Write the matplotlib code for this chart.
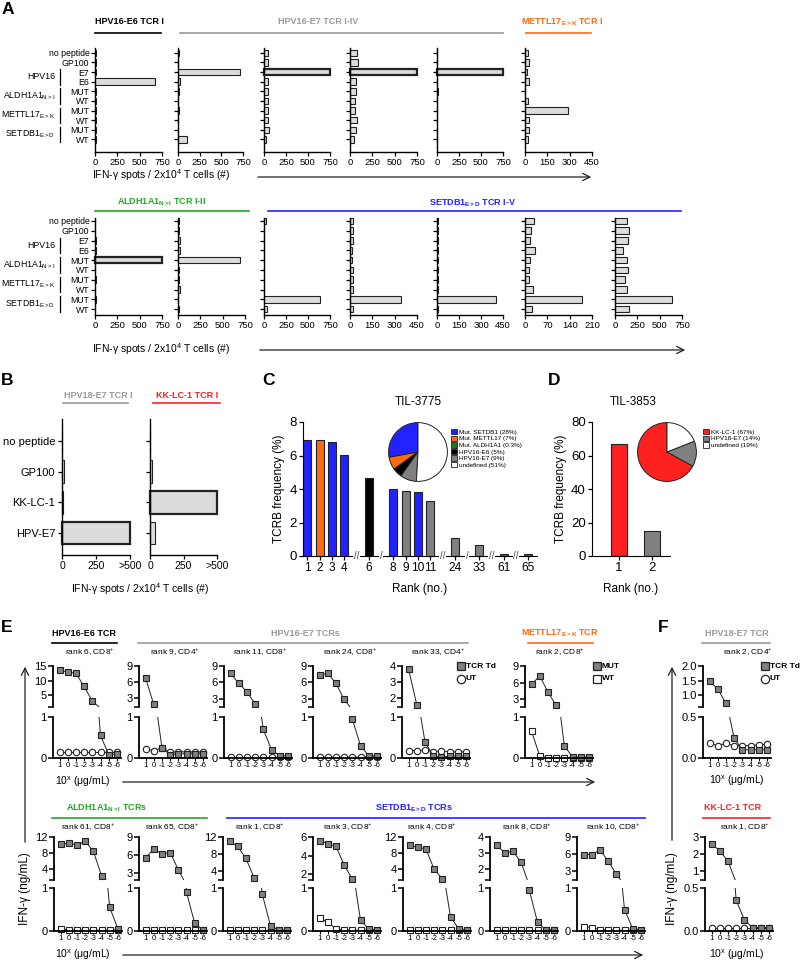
import numpy as np
import matplotlib
matplotlib.use('Agg')
import matplotlib.pyplot as plt
import matplotlib.transforms as mtrans
from matplotlib.lines import Line2D
from matplotlib.patches import FancyArrowPatch, Patch

plt.rcParams['font.family'] = ['Liberation Sans', 'DejaVu Sans']
plt.rcParams['mathtext.fontset'] = 'custom'
plt.rcParams['mathtext.rm'] = 'Liberation Sans'
plt.rcParams['mathtext.it'] = 'Liberation Sans:italic'
plt.rcParams['mathtext.bf'] = 'Liberation Sans:bold'

# ---------------- data ----------------
# panel A (IFN-g spots)
cats = ['no peptide', 'GP100', 'E7', 'E6', 'MUT', 'WT', 'MUT', 'WT', 'MUT', 'WT']
groups = [('HPV16', 2, 3), ('ALDH1A1$_{\\mathrm{N>I}}$', 4, 5),
          ('METTL17$_{\\mathrm{E>K}}$', 6, 7), ('SETDB1$_{\\mathrm{E>D}}$', 8, 9)]

e6_tcr1 = [8, 6, 15, 670, 10, 10, 10, 15, 10, 12]
e7_tcr1 = [15, 5, 720, 20, 15, 5, 15, 5, 5, 100]
e7_tcr2 = [50, 50, 750, 50, 50, 50, 50, 40, 60, 20]
e7_tcr3 = [80, 90, 750, 70, 70, 60, 60, 80, 70, 50]
e7_tcr4 = [5, 5, 750, 5, 10, 5, 5, 5, 5, 5]
mettl_tcr1 = [18, 29, 11, 29, 2, 22, 292, 29, 29, 18]

aldh_tcr1 = [5, 5, 15, 10, 750, 5, 10, 5, 10, 5]
aldh_tcr2 = [10, 10, 25, 25, 690, 10, 10, 20, 0, 10]
setdb_tcr1 = [20, 5, 5, 5, 5, 5, 5, 5, 640, 30]
setdb_tcr2 = [20, 20, 20, 15, 15, 20, 20, 20, 340, 20]
setdb_tcr3 = [10, 5, 5, 10, 10, 5, 5, 5, 405, 5]
setdb_tcr4 = [29, 19, 16, 31, 16, 13, 13, 26, 178, 23]
setdb_tcr5 = [131, 161, 143, 94, 131, 143, 116, 131, 637, 161]

# panel B
b_cats = ['no peptide', 'GP100', 'KK-LC-1', 'HPV-E7']
hpv18_tcr1 = [0, 15, 5, 500]
kklc_tcr1 = [0, 15, 500, 35]

# panel C
c_ranks = ['1', '2', '3', '4', '6', '8', '9', '10', '11', '24', '33', '61', '65']
c_freq = [6.9, 6.9, 6.8, 6.05, 4.65, 4.0, 3.9, 3.8, 3.3, 1.1, 0.65, 0.1, 0.1]
c_spec = ['SETDB1', 'METTL17', 'SETDB1', 'SETDB1', 'E6', 'SETDB1', 'E7', 'SETDB1',
          'E7', 'E7', 'E7', 'ALDH1A1', 'ALDH1A1']
c_breaks = ['', '', '', '//', '/', '', '', '', '//', '/', '//', '//', '']
c_pie_labels = ['Mut. SETDB1 (28%)', 'Mut. METTL17 (7%)', 'Mut. ALDH1A1 (0.3%)',
                'HPV16-E6 (5%)', 'HPV16-E7 (9%)', 'undefined (51%)']
c_pie = [28, 7, 0.3, 5, 9, 51]

# panel D
d_ranks = ['1', '2']
d_freq = [67, 15]
d_pie_labels = ['KK-LC-1 (67%)', 'HPV18-E7 (14%)', 'undefined (19%)']
d_pie = [67, 14, 19]

# panels E/F (IFN-g ng/mL vs 10^x ug/mL)
conc = ['1', '0', '-1', '-2', '-3', '-4', '-5', '-6']
r6_td = [13.5, 13.0, 12.5, 8.0, 3.0, 0.55, 0.08, 0.1]
r6_ut = [0.15, 0.15, 0.15, 0.15, 0.15, 0.15, 0.15, 0.15]
r9_td = [6.7, 1.7, 0.25, 0.08, 0.1, 0.1, 0.1, 0.1]
r9_ut = [0.22, 0.18, 0.25, 0.15, 0.15, 0.15, 0.15, 0.15]
r11_td = [7.7, 5.8, 4.3, 2.0, 0.7, 0.2, 0.05, 0.05]
r11_ut = [0.02, 0.02, 0.02, 0.02, 0.02, 0.02, 0.02, 0.02]
r24_td = [7.3, 7.7, 5.8, 2.9, 0.95, 0.3, 0.05, 0.05]
r24_ut = [0.02, 0.02, 0.02, 0.02, 0.02, 0.02, 0.03, 0.03]
r33_td = [3.8, 1.6, 0.4, 0.05, 0.02, 0.05, 0.05, 0.05]
r33_ut = [0.18, 0.18, 0.2, 0.15, 0.18, 0.15, 0.15, 0.15]
r2m_mut = [5.7, 7.2, 4.3, 1.9, 0.3, 0.02, 0.02, 0.02]
r2m_wt = [0.65, 0.05, 0.0, 0.0, 0.0, 0.0, 0.0, 0.0]
f_r2_td = [1.48, 1.22, 0.72, 0.24, 0.1, 0.1, 0.1, 0.1]
f_r2_ut = [0.18, 0.15, 0.18, 0.15, 0.15, 0.15, 0.16, 0.17]

r61_td = [10.2, 10.5, 10.0, 11.0, 8.5, 2.5, 0.55, 0.05]
r61_ut = [0.05, 0.02, 0.02, 0.02, 0.02, 0.02, 0.02, 0.02]
r65_td = [5.5, 7.0, 6.2, 6.4, 3.5, 0.9, 0.18, 0.02]
r65_ut = [0.02, 0.02, 0.02, 0.02, 0.02, 0.02, 0.02, 0.02]
r1_td = [11.0, 9.8, 7.0, 2.5, 0.85, 0.12, 0.02, 0.02]
r1_ut = [0.02, 0.02, 0.02, 0.02, 0.02, 0.02, 0.02, 0.02]
r3_td = [5.6, 5.3, 5.0, 3.0, 1.5, 0.25, 0.05, 0.02]
r3_ut = [0.3, 0.2, 0.05, 0.02, 0.02, 0.02, 0.02, 0.02]
r4_td = [10.0, 9.4, 9.0, 3.9, 1.5, 0.33, 0.05, 0.03]
r4_ut = [0.02, 0.02, 0.02, 0.02, 0.02, 0.02, 0.02, 0.02]
r8_td = [3.5, 3.0, 3.1, 2.4, 0.95, 0.2, 0.03, 0.03]
r8_ut = [0.02, 0.02, 0.02, 0.02, 0.02, 0.02, 0.02, 0.02]
r10_td = [5.9, 5.9, 6.7, 4.8, 2.4, 0.5, 0.05, 0.03]
r10_ut = [0.1, 0.08, 0.03, 0.02, 0.02, 0.02, 0.02, 0.02]
f_r1_td = [2.6, 2.2, 1.6, 0.36, 0.13, 0.04, 0.04, 0.04]
f_r1_ut = [0.04, 0.04, 0.04, 0.04, 0.04, 0.04, 0.04, 0.04]

# colours
blue = '#2222ff'
orange = '#ff6a10'
green_t = '#22aa22'
green_b = '#1f7a1f'
grey_t = '#9a9a9a'
grey_b = '#808080'
red = '#ff2020'
spec_col = {'SETDB1': blue, 'METTL17': orange, 'ALDH1A1': green_b, 'E6': 'k', 'E7': grey_b}

# ---------------- helpers ----------------
W, H = 800, 964
fig = plt.figure(figsize=(W / 100, H / 100), dpi=100)


def ax_px(x0, y0, x1, y1):
    return fig.add_axes([x0 / W, 1 - y1 / H, (x1 - x0) / W, (y1 - y0) / H])


def txt(x, y, s, **kw):
    kw.setdefault('ha', 'center')
    kw.setdefault('va', 'center')
    fig.text(x / W, 1 - y / H, s, **kw)


def hline(x0, x1, y, color='k', lw=1.0):
    fig.add_artist(Line2D([x0 / W, x1 / W], [1 - y / H, 1 - y / H], color=color, lw=lw))


def arrow(x0, y0, x1, y1):
    fig.add_artist(FancyArrowPatch((x0 / W, 1 - y0 / H), (x1 / W, 1 - y1 / H),
                                   transform=fig.transFigure, arrowstyle='->',
                                   mutation_scale=13, lw=0.9, color='#222222'))


def header(x, y, s, x0, x1, ly, color):
    txt(x, y, s, fontsize=6.5, fontweight='bold', color=color)
    hline(x0, x1, ly, color=color, lw=1.2)


def letter(x, y, s):
    txt(x, y, s, fontsize=12.5, fontweight='bold', ha='left')


def spot_panel(x0, x1, y0, y1, vals, xmax, xticks, ylim, labels, xlabels=None):
    ax = ax_px(x0, y0, x1, y1)
    for i, v in enumerate(vals):
        sat = v >= xmax
        ax.barh(i, min(v, xmax), height=0.68, color='#dcdcdc', edgecolor='#222222',
                lw=1.6 if sat else 0.8, clip_on=False)
    ax.set_xlim(0, xmax)
    ax.set_ylim(*ylim)
    ax.set_yticks(np.arange(len(vals)))
    ax.set_yticklabels(labels if labels is not None else [])
    ax.set_xticks(xticks)
    if xlabels is not None:
        ax.set_xticklabels(xlabels)
    for s in ('top', 'right'):
        ax.spines[s].set_visible(False)
    for s in ('left', 'bottom'):
        ax.spines[s].set_linewidth(1.0)
    ax.tick_params(axis='x', length=3, width=0.9, labelsize=6.8, pad=1.5)
    ax.tick_params(axis='y', length=3, width=0.9, labelsize=6.3, pad=1)
    return ax


def group_labels(ax):
    blend = mtrans.blended_transform_factory(fig.transFigure, ax.transData)
    for name, i, j in groups:
        ax.text(55 / W, (i + j) / 2, name, transform=blend, ha='right', va='center', fontsize=6.3)
        ax.add_line(Line2D([60 / W, 60 / W], [i - 0.3, j + 0.3], transform=blend,
                           color='k', lw=0.9, clip_on=False))


def dose_panel(sx, yu, yl, upper, uticks, ulabels, lower, lticks, llabels, series):
    axu = ax_px(sx, yu[0], sx + 68, yu[1])
    axl = ax_px(sx, yl[0], sx + 68, yl[1])
    x = np.arange(len(conc))
    lo = upper[0]
    for vals, mk, fc in series:
        v = np.array(vals)
        for a in (axu, axl):
            a.plot(x, v, '-', color='#222222', lw=0.7)
        up = v >= lo
        kw = dict(ls='none', marker=mk, mfc=fc, mec='#222222', ms=4.6, mew=0.8, clip_on=False)
        axu.plot(x[up], v[up], **kw)
        axl.plot(x[~up], v[~up], **kw)
    for a in (axu, axl):
        a.set_xlim(-0.8, 7.5)
        for s in ('top', 'right'):
            a.spines[s].set_visible(False)
        a.spines['left'].set_linewidth(1.3)
        a.spines['bottom'].set_linewidth(1.3)
    axu.set_ylim(*upper)
    axl.set_ylim(*lower)
    axu.spines['bottom'].set_visible(False)
    axu.set_xticks([])
    axu.set_yticks([lo] + uticks)
    axu.set_yticklabels([''] + ulabels)
    axl.set_yticks(lticks)
    axl.set_yticklabels(llabels)
    axl.set_xticks(x)
    axl.set_xticklabels(conc)
    for a in (axu, axl):
        a.tick_params(axis='y', length=3.5, width=1.1, labelsize=8, pad=1)
    axl.tick_params(axis='x', length=2, width=0.8, labelsize=5.6, pad=1)
    return axu, axl


def leg_marker(x, y, mk, fc, label):
    fig.add_artist(Line2D([x / W], [1 - y / H], marker=mk, mfc=fc, mec='#222222',
                          ms=6, mew=0.9, ls='none'))
    txt(x + 5, y, label, ha='left', fontsize=6, fontweight='bold')


# ---------------- panel A ----------------
letter(2, 10, 'A')
header(129, 22, 'HPV16-E6 TCR I', 95, 161, 33, 'k')
header(318, 22, 'HPV16-E7 TCR I-IV', 180, 503, 33, grey_t)
header(562, 22, 'METTL17$_{\\mathbf{E>K}}$ TCR I', 526, 591, 33, orange)

t750 = [0, 250, 500, 750]
t450 = [0, 150, 300, 450]
ylim_top = (10.3, -0.5)
ax = spot_panel(95, 162, 48, 152, e6_tcr1, 750, t750, ylim_top, cats)
group_labels(ax)
spot_panel(178, 243, 48, 152, e7_tcr1, 750, t750, ylim_top, None)
spot_panel(264, 330, 48, 152, e7_tcr2, 750, t750, ylim_top, None)
spot_panel(350, 417, 48, 152, e7_tcr3, 750, t750, ylim_top, None)
spot_panel(437, 503, 48, 152, e7_tcr4, 750, t750, ylim_top, None)
spot_panel(525, 592, 48, 152, mettl_tcr1, 450, t450, ylim_top, None)
txt(92, 175, 'IFN-\u03b3 spots / 2x10$^4$ T cells (#)', ha='left', fontsize=7.5)
arrow(255, 177, 594, 177)

header(162, 202, 'ALDH1A1$_{\\mathbf{N>I}}$ TCR I-II', 95, 249, 211, green_t)
header(473, 203, 'SETDB1$_{\\mathbf{E>D}}$ TCR I-V', 268, 681, 211, blue)
ylim_bot = (9.6, -0.3)
ax = spot_panel(95, 162, 218, 315, aldh_tcr1, 750, t750, ylim_bot, cats)
group_labels(ax)
spot_panel(178, 245, 218, 315, aldh_tcr2, 750, t750, ylim_bot, None)
spot_panel(264, 330, 218, 315, setdb_tcr1, 750, t750, ylim_bot, None)
spot_panel(350, 417, 218, 315, setdb_tcr2, 450, t450, ylim_bot, None)
spot_panel(437, 503, 218, 315, setdb_tcr3, 450, t450, ylim_bot, None)
spot_panel(525, 592, 218, 315, setdb_tcr4, 210, [0, 70, 140, 210], ylim_bot, None)
spot_panel(615, 682, 218, 315, setdb_tcr5, 750, t750, ylim_bot, None)
txt(92, 349, 'IFN-\u03b3 spots / 2x10$^4$ T cells (#)', ha='left', fontsize=7.5)
arrow(257, 350, 688, 350)

# ---------------- panel B ----------------
letter(1, 381, 'B')
header(98, 395, 'HPV18-E7 TCR I', 63, 128, 403, grey_t)
header(187, 395, 'KK-LC-1 TCR I', 153, 220, 403, red)
for (bx0, bx1), vals, lab in [((62, 130), hpv18_tcr1, b_cats), ((150, 217), kklc_tcr1, None)]:
    ax = spot_panel(bx0, bx1, 419, 555, vals, 500, [0, 250, 500], (3.7, -0.7), lab,
                    ['0', '250', '>500'])
    ax.tick_params(axis='y', labelsize=8, pad=2)
    ax.tick_params(axis='x', labelsize=7.5)
    for p in ax.patches:
        p.set_height(0.72)
        p.set_y(p.get_y() - 0.02)
txt(140, 589, 'IFN-\u03b3 spots / 2x10$^4$ T cells (#)', fontsize=7.5)

# ---------------- panel C ----------------
letter(262, 381, 'C')
txt(418, 402, 'TIL-3775', fontsize=8.5)
pos = []
p = 0
brk = []
for r, b in zip(c_ranks, c_breaks):
    pos.append(p)
    p += 1
    if b:
        brk.append((p, b))
        p += 1
ax = ax_px(303, 422, 537, 556)
ax.bar(pos, c_freq, width=0.66, color=[spec_col[s] for s in c_spec], edgecolor='#222222', lw=0.8)
ax.set_xlim(-0.35, 18.7)
ax.set_ylim(0, 8)
ax.set_yticks([0, 2, 4, 6, 8])
ax.set_xticks(pos)
ax.set_xticklabels(c_ranks)
for bp, b in brk:
    ax.text(bp, 0, b, ha='center', va='center', fontsize=7, color='#444444',
            bbox=dict(fc='white', ec='none', pad=0.3), clip_on=False)
for s in ('top', 'right'):
    ax.spines[s].set_visible(False)
ax.tick_params(length=3, width=0.9, labelsize=9.5, pad=1.5)
ax.tick_params(axis='x', labelsize=8.6)
ax.set_xlabel('Rank (no.)', fontsize=8.5, labelpad=6)
ax.set_ylabel('TCRB frequency (%)', fontsize=8.5, labelpad=3)
pax = ax_px(388, 422, 448, 482)
pcols = [blue, orange, green_b, 'k', grey_b, 'white']
pax.pie(c_pie, colors=pcols, startangle=90, counterclock=True,
        wedgeprops=dict(edgecolor='#222222', linewidth=0.7))
pax.set_xlim(-1.02, 1.02)
pax.set_ylim(-1.02, 1.02)
fig.legend([Patch(fc=c, ec='#222222', lw=0.6) for c in pcols], c_pie_labels,
           loc='upper left', bbox_to_anchor=(451 / W, 1 - 429 / H), frameon=False,
           fontsize=4.6, handlelength=0.9, handleheight=0.9, labelspacing=0.12,
           borderpad=0, borderaxespad=0, handletextpad=0.3)

# ---------------- panel D ----------------
letter(548, 381, 'D')
txt(633, 402, 'TIL-3853', fontsize=8.5)
ax = ax_px(592, 422, 670, 556)
ax.bar(np.arange(len(d_freq)), d_freq, width=0.5, color=[red, grey_b], edgecolor='#222222', lw=0.8)
ax.set_xlim(-0.82, 1.55)
ax.set_ylim(0, 80)
ax.set_yticks([0, 20, 40, 60, 80])
ax.set_xticks(np.arange(len(d_freq)))
ax.set_xticklabels(d_ranks)
for s in ('top', 'right'):
    ax.spines[s].set_visible(False)
ax.tick_params(length=3, width=0.9, labelsize=9.5, pad=1.5)
ax.set_xlabel('Rank (no.)', fontsize=8.5, labelpad=6)
ax.set_ylabel('TCRB frequency (%)', fontsize=8.5, labelpad=3)
pax = ax_px(637, 422, 697, 482)
dcols = [red, grey_b, 'white']
pax.pie(d_pie, colors=dcols, startangle=90, counterclock=True,
        wedgeprops=dict(edgecolor='#222222', linewidth=0.7))
pax.set_xlim(-1.02, 1.02)
pax.set_ylim(-1.02, 1.02)
fig.legend([Patch(fc=c, ec='#222222', lw=0.6) for c in dcols], d_pie_labels,
           loc='upper left', bbox_to_anchor=(703 / W, 1 - 429 / H), frameon=False,
           fontsize=4.6, handlelength=0.9, handleheight=0.9, labelspacing=0.12,
           borderpad=0, borderaxespad=0, handletextpad=0.3)

# ---------------- panel E (top) ----------------
letter(1, 627, 'E')
header(84, 633, 'HPV16-E6 TCR', 52, 117, 643, 'k')
header(305, 633, 'HPV16-E7 TCRs', 138, 468, 643, grey_t)
header(560, 633, 'METTL17$_{\\mathbf{E>K}}$ TCR', 528, 593, 643, orange)
yu_t, yl_t = (666, 707), (717, 758)
td = lambda v: (v, 's', grey_b)
ut = lambda v: (v, 'o', 'white')
wt = lambda v: (v, 's', 'white')
l01 = ((0, 1), [0, 1], ['0', '1'])
dose_panel(53, yu_t, yl_t, (1.0, 15), [5, 10, 15], ['5', '10', '15'], *l01, [ut(r6_ut), td(r6_td)])
dose_panel(139, yu_t, yl_t, (1.2, 9), [3, 6, 9], ['3', '6', '9'], *l01, [ut(r9_ut), td(r9_td)])
dose_panel(224, yu_t, yl_t, (1.5, 9), [3, 6, 9], ['3', '6', '9'], *l01, [ut(r11_ut), td(r11_td)])
dose_panel(313, yu_t, yl_t, (1.5, 9), [3, 6, 9], ['3', '6', '9'], *l01, [ut(r24_ut), td(r24_td)])
dose_panel(402, yu_t, yl_t, (1.45, 4), [2, 3, 4], ['2', '3', '4'], *l01, [ut(r33_ut), td(r33_td)])
dose_panel(525, yu_t, yl_t, (1.6, 9), [3, 6, 9], ['3', '6', '9'], *l01, [wt(r2m_wt), td(r2m_mut)])
for x, s in [(90, 'rank 6, CD8$^{+}$'), (175, 'rank 9, CD4$^{+}$'), (260, 'rank 11, CD8$^{+}$'),
             (350, 'rank 24, CD8$^{+}$'), (438, 'rank 33, CD4$^{+}$'), (560, 'rank 2, CD8$^{+}$')]:
    txt(x, 652, s, fontsize=6)
leg_marker(461, 666, 's', grey_b, 'TCR Td')
leg_marker(461, 679, 'o', 'white', 'UT')
leg_marker(597, 666, 's', grey_b, 'MUT')
leg_marker(597, 679, 's', 'white', 'WT')
txt(83, 782, '10$^{\\mathrm{x}}$ (\u03bcg/mL)', fontsize=7.5)
arrow(120, 782, 598, 782)

# ---------------- panel E (bottom) ----------------
header(107, 808, 'ALDH1A1$_{\\mathbf{N>I}}$ TCRs', 52, 207, 818, green_t)
header(414, 808, 'SETDB1$_{\\mathbf{E>D}}$ TCRs', 227, 645, 818, blue)
yu_b, yl_b = (837, 880), (888, 931)
dose_panel(54, yu_b, yl_b, (1.4, 12), [4, 8, 12], ['4', '8', '12'], *l01, [wt(r61_ut), td(r61_td)])
dose_panel(139, yu_b, yl_b, (1.8, 9), [3, 6, 9], ['3', '6', '9'], *l01, [wt(r65_ut), td(r65_td)])
dose_panel(223, yu_b, yl_b, (2.0, 12), [4, 8, 12], ['4', '8', '12'], *l01, [wt(r1_ut), td(r1_td)])
dose_panel(313, yu_b, yl_b, (1.4, 6), [2, 4, 6], ['2', '4', '6'], *l01, [wt(r3_ut), td(r3_td)])
dose_panel(403, yu_b, yl_b, (1.2, 12), [4, 8, 12], ['4', '8', '12'], *l01, [wt(r4_ut), td(r4_td)])
dose_panel(490, yu_b, yl_b, (1.3, 4), [2, 3, 4], ['2', '3', '4'], *l01, [wt(r8_ut), td(r8_td)])
dose_panel(577, yu_b, yl_b, (1.4, 9), [3, 6, 9], ['3', '6', '9'], *l01, [wt(r10_ut), td(r10_td)])
for x, s in [(88, 'rank 61, CD8$^{+}$'), (172, 'rank 65, CD8$^{+}$'), (260, 'rank 1, CD8$^{+}$'),
             (348, 'rank 3, CD8$^{+}$'), (432, 'rank 4, CD8$^{+}$'), (527, 'rank 8, CD8$^{+}$'),
             (613, 'rank 10, CD8$^{+}$')]:
    txt(x, 827, s, fontsize=6)
txt(83, 955, '10$^{\\mathrm{x}}$ (\u03bcg/mL)', fontsize=7.5)
arrow(120, 955, 646, 955)
arrow(25, 845, 25, 664)
txt(25, 889, 'IFN-\u03b3 (ng/mL)', rotation=90, fontsize=8.5)

# ---------------- panel F ----------------
letter(658, 627, 'F')
header(737, 633, 'HPV18-E7 TCR', 702, 770, 643, grey_t)
txt(748, 652, 'rank 2, CD4$^{+}$', fontsize=6)
dose_panel(703, yu_t, yl_t, (0.6, 2.0), [1.0, 1.5, 2.0], ['1.0', '1.5', '2.0'],
           (0, 0.5), [0, 0.5], ['0.0', '0.5'], [ut(f_r2_ut), td(f_r2_td)])
leg_marker(765, 666, 's', grey_b, 'TCR Td')
leg_marker(765, 679, 'o', 'white', 'UT')
txt(737, 781, '10$^{\\mathrm{x}}$ (\u03bcg/mL)', fontsize=7.5)

header(733, 808, 'KK-LC-1 TCR', 703, 770, 818, red)
txt(745, 827, 'rank 1, CD8$^{+}$', fontsize=6)
dose_panel(705, yu_b, yl_b, (0.5, 3), [1, 2, 3], ['1', '2', '3'],
           (0, 0.5), [0, 0.5], ['0.0', '0.5'], [ut(f_r1_ut), td(f_r1_td)])
txt(737, 955, '10$^{\\mathrm{x}}$ (\u03bcg/mL)', fontsize=7.5)
arrow(672, 843, 672, 664)
txt(672, 889, 'IFN-\u03b3 (ng/mL)', rotation=90, fontsize=8.5)

fig.savefig('out.png', dpi=100)
